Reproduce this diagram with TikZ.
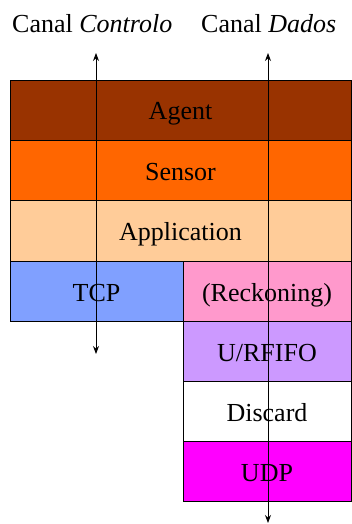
\documentclass[tikz,border=0pt]{standalone}
\usepackage{fontspec}
\setmainfont{Liberation Serif}
\usetikzlibrary{arrows.meta}
\definecolor{agentc}{HTML}{993300}
\definecolor{sensorc}{HTML}{FF6600}
\definecolor{appc}{HTML}{FFCC99}
\definecolor{tcpc}{HTML}{80A0FF}
\definecolor{reckc}{HTML}{FF99CC}
\definecolor{fifoc}{HTML}{CC99FF}
\definecolor{udpc}{HTML}{FF00FF}
\begin{document}
\begin{tikzpicture}[x=1pt,y=-1pt,
  layer/.style={draw=black,line width=0.9pt,inner sep=0pt,minimum height=60pt,text height=22pt,text depth=2pt,font=\fontsize{26}{30}\selectfont},
  wide/.style={layer,minimum width=341pt},
  half/.style={layer,minimum width=168pt},
  lbl/.style={font=\fontsize{26}{30}\selectfont,inner sep=0pt},
  chan/.style={line width=0.9pt,{Stealth[length=8pt,width=6pt]}-{Stealth[length=8pt,width=6pt]}}]
\useasboundingbox (0,0) rectangle (351,524);
\node[wide,fill=agentc] (agent) at (180.5,110) {Agent};
\node[wide,fill=sensorc] (sensor) at (180.5,170) {Sensor};
\node[wide,fill=appc,minimum height=61pt] (app) at (180.5,230.5) {Application};
\node[layer,fill=tcpc,minimum width=173pt] (tcp) at (96.5,291) {TCP};
\node[half,fill=reckc] (reck) at (267,291) {(Reckoning)};
\node[half,fill=fifoc] (fifo) at (267,351) {U/RFIFO};
\node[half,fill=white] (discard) at (267,411) {Discard};
\node[half,fill=udpc] (udp) at (267,471) {UDP};
\node[lbl,anchor=base west] (lc) at (12,33) {Canal \textit{Controlo}};
\node[lbl,anchor=base west] (ld) at (201,33) {Canal \textit{Dados}};
\coordinate (ctop) at (96,53);
\coordinate (cbot) at (96,354);
\coordinate (dtop) at (268,53);
\coordinate (dbot) at (268,523);
\draw[chan] (cbot) -- (ctop);
\draw[chan] (dbot) -- (dtop);
\end{tikzpicture}
\end{document}
